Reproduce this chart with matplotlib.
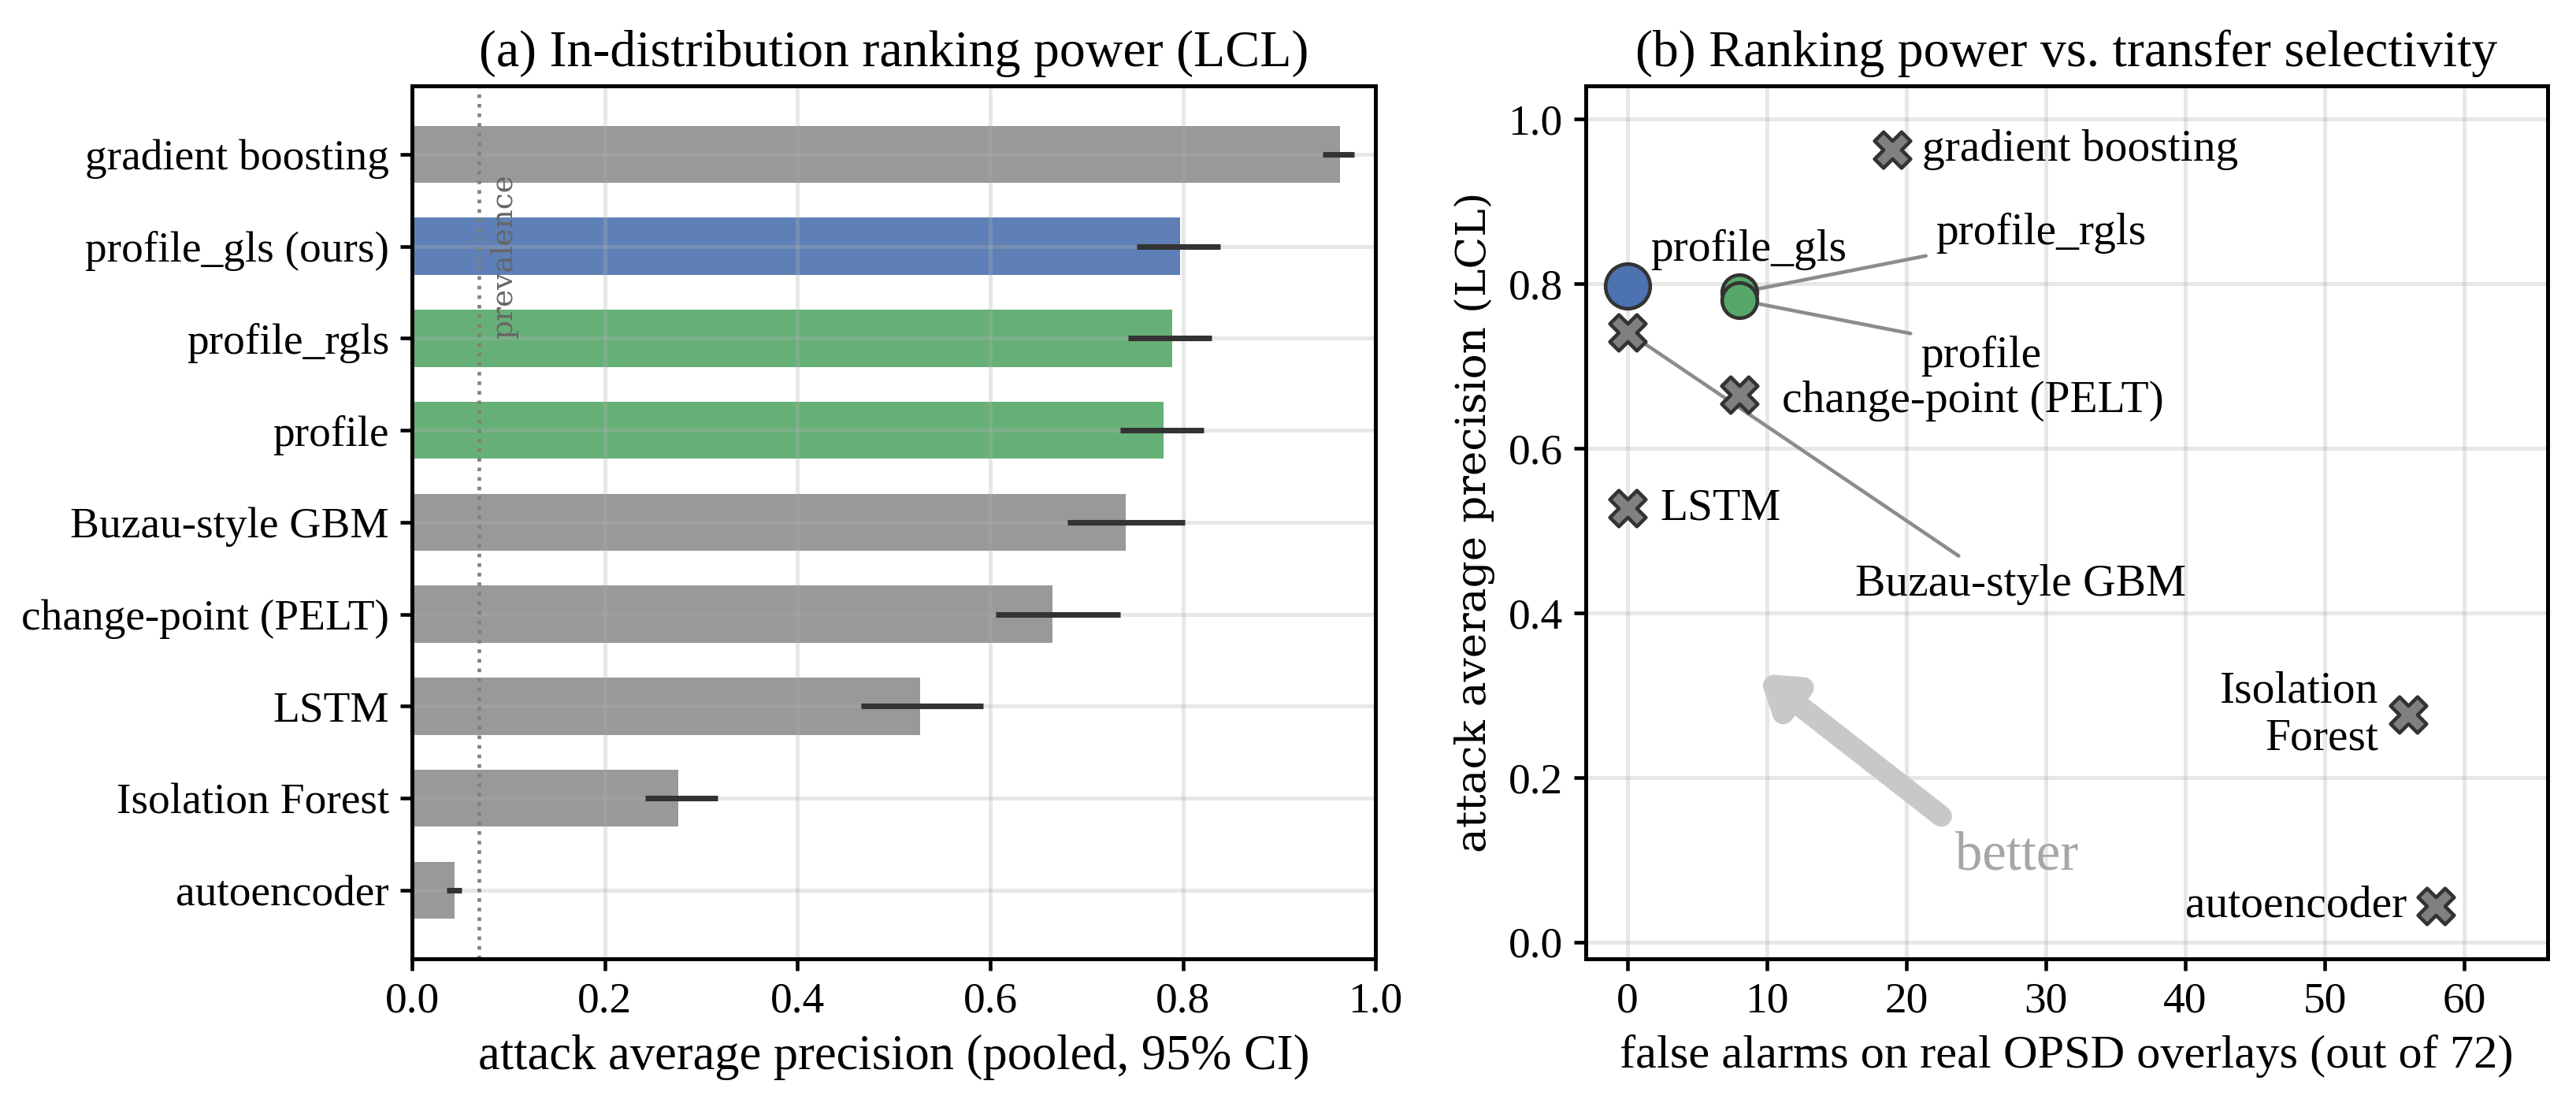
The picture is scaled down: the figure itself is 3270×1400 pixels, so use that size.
import matplotlib
matplotlib.use("Agg")
import matplotlib.pyplot as plt
import numpy as np

# ---------------- data ----------------
methods = ["gradient boosting", "profile_gls (ours)", "profile_rgls", "profile",
           "Buzau-style GBM", "change-point (PELT)", "LSTM", "Isolation Forest",
           "autoencoder"]
ap = [0.963, 0.797, 0.789, 0.780, 0.741, 0.665, 0.527, 0.276, 0.044]
ci_lo = [0.945, 0.752, 0.743, 0.735, 0.680, 0.606, 0.466, 0.242, 0.036]
ci_hi = [0.978, 0.839, 0.830, 0.822, 0.802, 0.735, 0.593, 0.317, 0.051]
kind = ["base", "ours", "prof", "prof", "base", "base", "base", "base", "base"]
prevalence = 0.069

short_names = ["gradient boosting", "profile_gls", "profile_rgls", "profile",
               "Buzau-style GBM", "change-point (PELT)", "LSTM",
               "Isolation\nForest", "autoencoder"]
false_alarms = [19, 0, 8, 8, 0, 8, 0, 56, 58]
n_overlays = 72

bar_colors = {"base": "#999999", "ours": "#5e80b7", "prof": "#66b077"}
pt_colors = {"base": "#808080", "ours": "#4C72B0", "prof": "#55A868"}

SERIF = ["Liberation Serif", "DejaVu Serif"]
plt.rcParams["font.family"] = SERIF
plt.rcParams["axes.linewidth"] = 1.2

TICK_FS = 13.3
TITLE_FS = 15.8
ANN_FS = 13.8

fig = plt.figure(figsize=(10.9, 4.6667), dpi=300)
axL = fig.add_axes([0.160, 0.131, 0.374, 0.791])
axR = fig.add_axes([0.6156, 0.131, 0.3734, 0.791])

# ---------------- panel (a) ----------------
y = np.arange(len(methods))
ap_a = np.array(ap)
xerr = np.vstack([ap_a - np.array(ci_lo), np.array(ci_hi) - ap_a])
axL.barh(y, ap, height=0.62, color=[bar_colors[k] for k in kind])
axL.errorbar(ap, y, xerr=xerr, fmt="none", ecolor="#333333", elinewidth=1.7,
             capsize=0, zorder=3)
axL.axvline(prevalence, color="#808080", ls=":", lw=1.1, zorder=2)
axL.text(prevalence + 0.012, 0.9, "prevalence", rotation=90, ha="left", va="top",
         color="#666666", fontsize=9, family="DejaVu Serif",
         transform=axL.get_xaxis_transform())
axL.set_yticks(y)
axL.set_yticklabels(methods, fontsize=TICK_FS)
axL.invert_yaxis()
axL.set_xlim(0, 1.0)
axL.set_xticks(np.arange(0, 1.01, 0.2))
axL.set_xticklabels([f"{v:.1f}" for v in np.arange(0, 1.01, 0.2)], fontsize=TICK_FS)
axL.set_xlabel("attack average precision (pooled, 95% CI)", fontsize=15)
axL.set_title("(a) In-distribution ranking power (LCL)", fontsize=TITLE_FS)
axL.grid(True, alpha=0.3, lw=1.2)
axL.tick_params(length=3.5, width=1.1)

# ---------------- panel (b) ----------------
for i in range(len(methods)):
    k = kind[i]
    if k == "ours":
        axR.scatter(false_alarms[i], ap[i], s=185, marker="o", color=pt_colors[k],
                    edgecolor="#333333", lw=1.1, zorder=4)
    elif k == "prof":
        axR.scatter(false_alarms[i], ap[i], s=115, marker="o", color=pt_colors[k],
                    edgecolor="#333333", lw=1.1, zorder=4)
    else:
        axR.scatter(false_alarms[i], ap[i], s=120, marker="X", color=pt_colors[k],
                    edgecolor="#333333", lw=1.1, zorder=4)

line_kw = dict(arrowstyle="-", color="#8c8c8c", lw=1.1, shrinkA=1, shrinkB=6)
# labels with offsets (points)
offsets = {0: (9, 0, "left"), 1: (7, 11, "left"), 5: (13, -2, "left"),
           6: (10, 0, "left"), 7: (-9, 0, "right"), 8: (-9, 0, "right")}
for i, (dx, dy, ha) in offsets.items():
    axR.annotate(short_names[i], (false_alarms[i], ap[i]), xytext=(dx, dy),
                 textcoords="offset points", ha=ha, va="center", fontsize=ANN_FS,
                 multialignment=ha)
# labels connected with leader lines
axR.annotate(short_names[2], (false_alarms[2], ap[2]), xytext=(22.1, 0.861),
             ha="left", va="center", fontsize=ANN_FS,
             arrowprops=dict(relpos=(0, 0), **line_kw))
axR.annotate(short_names[3], (false_alarms[3], ap[3]), xytext=(21.0, 0.712),
             ha="left", va="center", fontsize=ANN_FS,
             arrowprops=dict(relpos=(0, 1), **line_kw))
axR.annotate(short_names[4], (false_alarms[4], ap[4]), xytext=(28.2, 0.434),
             ha="center", va="center", fontsize=ANN_FS,
             arrowprops=dict(relpos=(0.35, 1), **line_kw))

# "better" arrow
axR.annotate("", xy=(9.4, 0.326), xytext=(22.5, 0.153),
             arrowprops=dict(arrowstyle="-|>,head_length=0.75,head_width=0.5",
                             lw=6.5, color="#c8c8c8", capstyle="round",
                             joinstyle="round", shrinkA=0, shrinkB=0))
axR.text(27.9, 0.104, "better", ha="center", va="center", fontsize=16.5,
         color="#a6a6a6")

axR.set_xlim(-3, 66)
axR.set_ylim(-0.02, 1.04)
axR.set_xticks(np.arange(0, 61, 10))
axR.set_xticklabels([str(v) for v in range(0, 61, 10)], fontsize=TICK_FS)
axR.set_yticks(np.arange(0, 1.01, 0.2))
axR.set_yticklabels([f"{v:.1f}" for v in np.arange(0, 1.01, 0.2)], fontsize=TICK_FS)
axR.set_xlabel(f"false alarms on real OPSD overlays (out of {n_overlays})", fontsize=14.5)
axR.set_ylabel("attack average precision (LCL)", fontsize=12.8, family="DejaVu Serif")
axR.set_title("(b) Ranking power vs. transfer selectivity", fontsize=TITLE_FS)
axR.grid(True, alpha=0.3, lw=1.2)
axR.tick_params(length=3.5, width=1.1)

fig.savefig("out.png", dpi=300)
